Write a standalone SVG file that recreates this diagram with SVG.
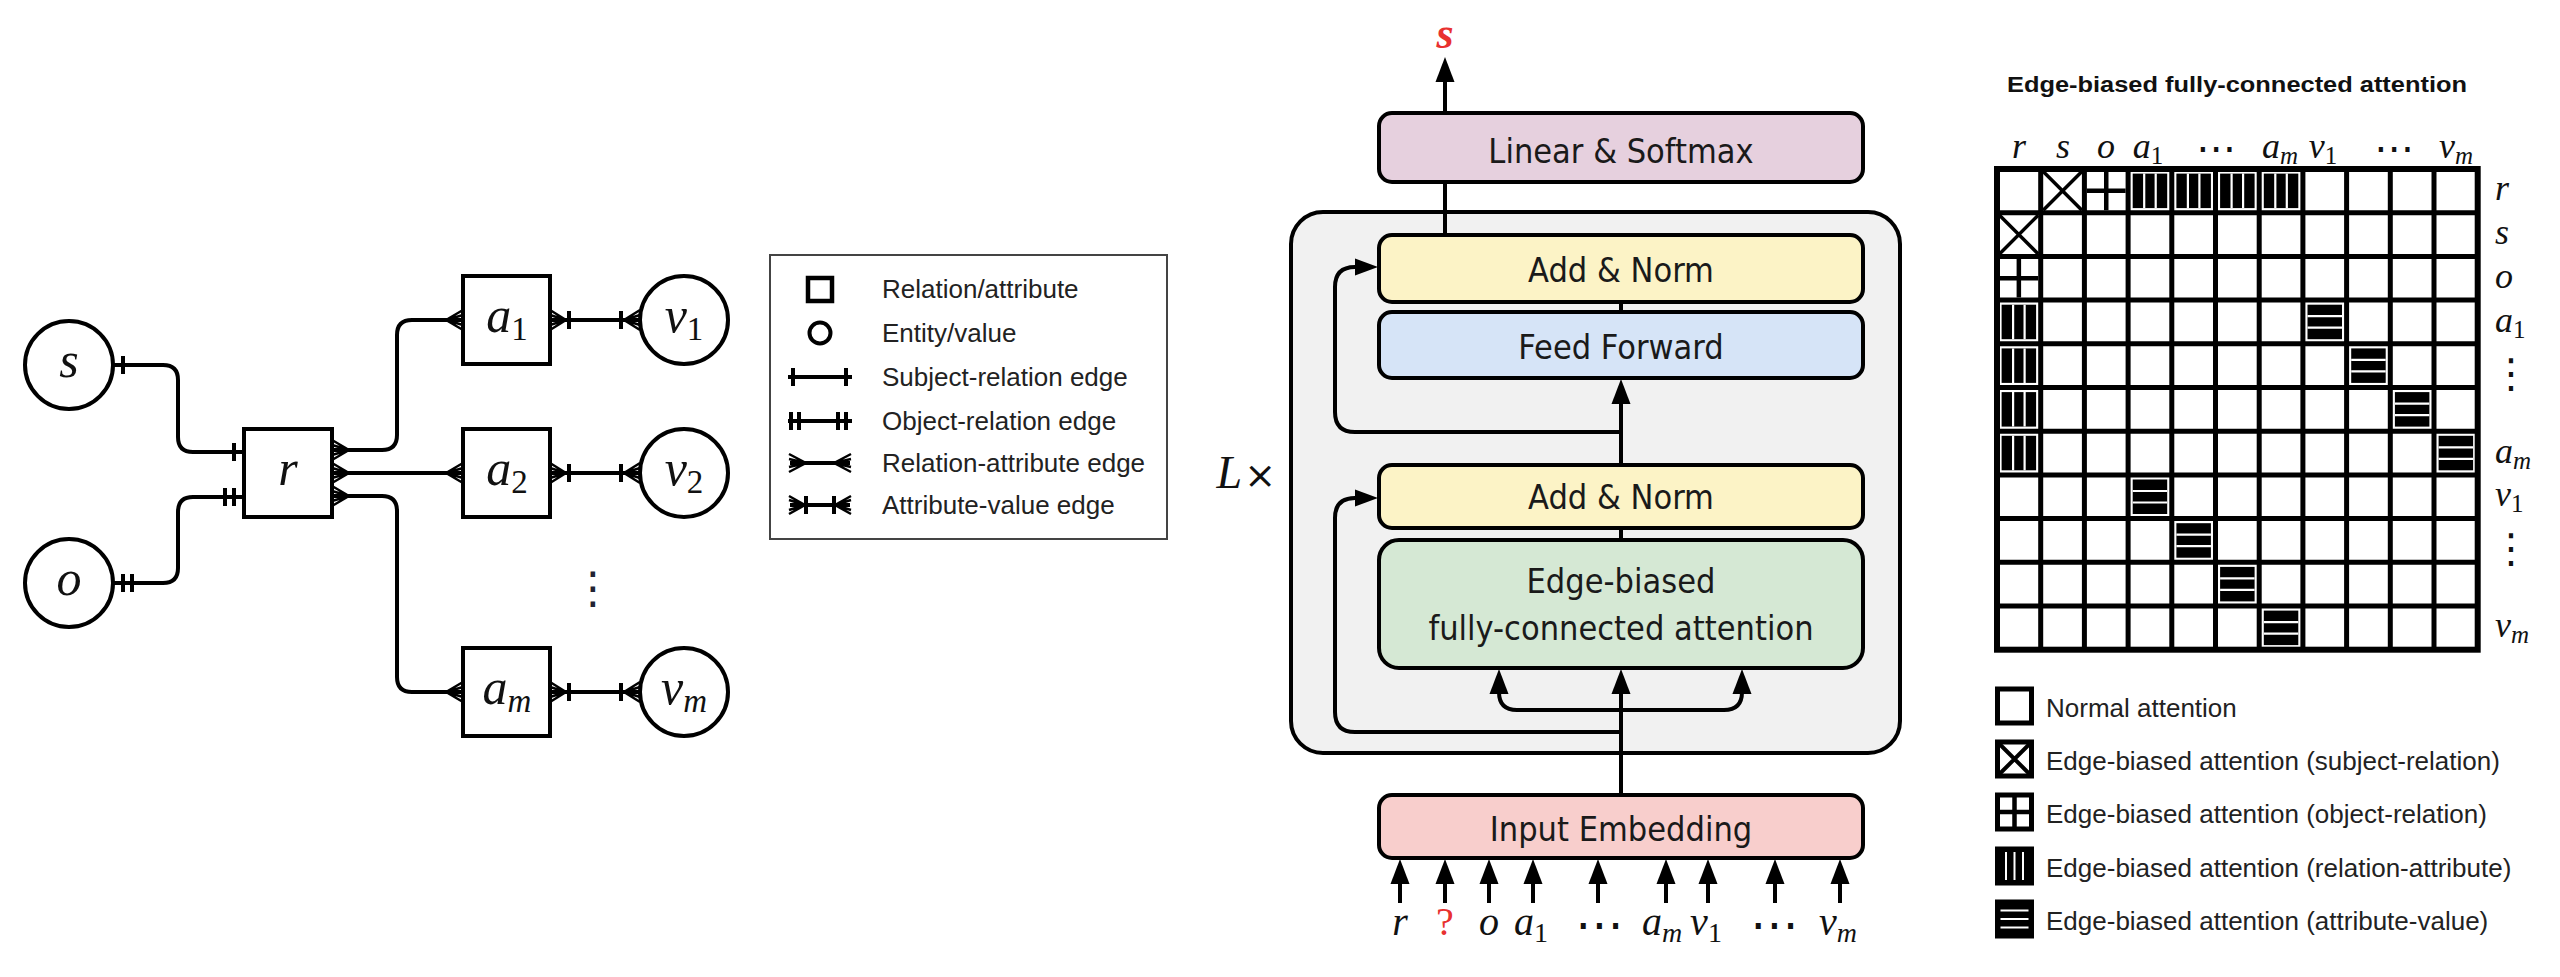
<svg xmlns="http://www.w3.org/2000/svg" xmlns:xlink="http://www.w3.org/1999/xlink" width="2560" height="977" viewBox="0 0 2560 977">
<style>
.m{font-family:"Liberation Serif","DejaVu Serif",serif;font-style:italic;fill:#111}
.up{font-style:normal}
.dots{font-family:"DejaVu Sans",sans-serif;font-style:normal}
.bx{font-family:"DejaVu Sans Condensed","DejaVu Sans",sans-serif;font-stretch:condensed;font-size:34px;fill:#1a1a1a;text-anchor:middle}
.lg{font-family:"Liberation Sans",Arial,sans-serif;font-size:26px;fill:#222}
.ln{fill:none;stroke:#000;stroke-width:4}
.nd{fill:#fff;stroke:#000;stroke-width:4}
.tb{stroke:#000;stroke-width:4}
.gl{fill:none;stroke:#000;stroke-width:5}
</style>
<defs>
<marker id="crow" markerUnits="userSpaceOnUse" orient="auto-start-reverse" markerWidth="26" markerHeight="26" viewBox="-22 -13 26 26" refX="0" refY="0" overflow="visible">
<path d="M-17,0 L0,-10 M-17,0 L0,10 M-17,0 L0,-5 M-17,0 L0,5" stroke="#000" stroke-width="2.5" fill="none"/>
</marker>
<marker id="tick" markerUnits="userSpaceOnUse" orient="auto-start-reverse" markerWidth="26" markerHeight="26" viewBox="-22 -13 26 26" refX="0" refY="0" overflow="visible">
<path d="M-10,-9 V9" stroke="#000" stroke-width="4" fill="none"/>
</marker>
<marker id="dtick" markerUnits="userSpaceOnUse" orient="auto-start-reverse" markerWidth="26" markerHeight="26" viewBox="-22 -13 26 26" refX="0" refY="0" overflow="visible">
<path d="M-10,-9 V9 M-19,-9 V9" stroke="#000" stroke-width="4" fill="none"/>
</marker>
<marker id="crowtick" markerUnits="userSpaceOnUse" orient="auto-start-reverse" markerWidth="26" markerHeight="26" viewBox="-22 -13 26 26" refX="0" refY="0" overflow="visible">
<path d="M-16,0 L0,-10 M-16,0 L0,10 M-16,0 L0,-5 M-16,0 L0,5" stroke="#000" stroke-width="2.5" fill="none"/>
<path d="M-19,-9 V9" stroke="#000" stroke-width="4" fill="none"/>
</marker>
<path id="ahU" d="M0,0 L-9.5,25 L9.5,25 Z" fill="#000"/>
<path id="ahR" d="M0,0 L-23,-8.5 L-23,8.5 Z" fill="#000"/>
<g id="cx"><path d="M2.5,2.5 L41.2,41.2 M41.2,2.5 L2.5,41.2" stroke="#000" stroke-width="3.5" fill="none"/></g>
<g id="cp"><path d="M21.85,2.5 V41.2 M2.5,21.85 H41.2" stroke="#000" stroke-width="4.5" fill="none"/></g>
<g id="cv"><rect x="4.6" y="4.6" width="34.5" height="34.5" fill="#000"/><path d="M16.1,4.6 V39.1 M27.6,4.6 V39.1" stroke="#fff" stroke-width="2.2"/></g>
<g id="ch"><rect x="4.6" y="4.6" width="34.5" height="34.5" fill="#000"/><path d="M4.6,16.1 H39.1 M4.6,27.6 H39.1" stroke="#fff" stroke-width="2.2"/></g>
</defs>
<rect width="2560" height="977" fill="#fff"/>

<!-- ============ LEFT GRAPH ============ -->
<g id="graph-connectors">
<path class="ln" d="M113,365 H163 Q178,365 178,380 V437 Q178,452 193,452 H244" marker-start="url(#tick)" marker-end="url(#tick)"/>
<path class="ln" d="M113,583 H163 Q178,583 178,568 V512 Q178,497 193,497 H244" marker-start="url(#dtick)" marker-end="url(#dtick)"/>
<path class="ln" d="M332,450 H382 Q397,450 397,435 V335 Q397,320 412,320 H463" marker-start="url(#crow)" marker-end="url(#crow)"/>
<path class="ln" d="M332,473 H463" marker-start="url(#crow)" marker-end="url(#crow)"/>
<path class="ln" d="M332,496 H382 Q397,496 397,511 V677 Q397,692 412,692 H463" marker-start="url(#crow)" marker-end="url(#crow)"/>
<path class="ln" d="M550,320 H640" marker-start="url(#crowtick)" marker-end="url(#crowtick)"/>
<path class="ln" d="M550,473 H640" marker-start="url(#crowtick)" marker-end="url(#crowtick)"/>
<path class="ln" d="M550,692 H640" marker-start="url(#crowtick)" marker-end="url(#crowtick)"/>
</g>
<g id="node-s"><circle class="nd" cx="69" cy="365" r="44"/><text class="m" x="69" y="377" font-size="50" text-anchor="middle">s</text></g>
<g id="node-o"><circle class="nd" cx="69" cy="583" r="44"/><text class="m" x="69" y="595" font-size="50" text-anchor="middle">o</text></g>
<g id="node-r"><rect class="nd" x="244" y="429" width="88" height="88"/><text class="m" x="288" y="485" font-size="50" text-anchor="middle">r</text></g>
<g id="node-a1"><rect class="nd" x="463" y="276" width="87" height="88"/><text class="m" x="507" y="332" font-size="50" text-anchor="middle">a<tspan class="up" font-size="33" dy="8">1</tspan></text></g>
<g id="node-a2"><rect class="nd" x="463" y="429" width="87" height="88"/><text class="m" x="507" y="485" font-size="50" text-anchor="middle">a<tspan class="up" font-size="33" dy="8">2</tspan></text></g>
<g id="node-am"><rect class="nd" x="463" y="648" width="87" height="88"/><text class="m" x="507" y="704" font-size="50" text-anchor="middle">a<tspan font-size="33" dy="8">m</tspan></text></g>
<g id="node-v1"><circle class="nd" cx="684" cy="320" r="44"/><text class="m" x="684" y="332" font-size="50" text-anchor="middle">v<tspan class="up" font-size="33" dy="8">1</tspan></text></g>
<g id="node-v2"><circle class="nd" cx="684" cy="473" r="44"/><text class="m" x="684" y="485" font-size="50" text-anchor="middle">v<tspan class="up" font-size="33" dy="8">2</tspan></text></g>
<g id="node-vm"><circle class="nd" cx="684" cy="692" r="44"/><text class="m" x="684" y="704" font-size="50" text-anchor="middle">v<tspan font-size="33" dy="8">m</tspan></text></g>
<text x="593" y="603" class="dots" font-size="44" fill="#223" text-anchor="middle">⋮</text>

<!-- legend of graph -->
<g id="legend-graph">
<rect x="770" y="255" width="397" height="284" fill="#fff" stroke="#444" stroke-width="2"/>
<rect x="808" y="278" width="24" height="23" fill="none" stroke="#000" stroke-width="4.5"/>
<circle cx="820" cy="333" r="10.5" fill="none" stroke="#000" stroke-width="4"/>
<path d="M788,377 H852 M793,368 V386 M846,368 V386" stroke="#000" stroke-width="4" fill="none"/>
<path d="M788,421 H852 M791,412 V430 M799,412 V430 M838,412 V430 M846,412 V430" stroke="#000" stroke-width="4" fill="none"/>
<path d="M790,463 H850" stroke="#000" stroke-width="4"/>
<path d="M806,463 L789,454 M806,463 L789,472 M806,463 L789,459 M806,463 L789,467 M834,463 L851,454 M834,463 L851,472 M834,463 L851,459 M834,463 L851,467" stroke="#000" stroke-width="2.5" fill="none"/>
<path d="M790,505 H850" stroke="#000" stroke-width="4"/>
<path d="M805,505 L789,496 M805,505 L789,514 M805,505 L789,500 M805,505 L789,510 M835,505 L851,496 M835,505 L851,514 M835,505 L851,500 M835,505 L851,510" stroke="#000" stroke-width="2.5" fill="none"/>
<path d="M806,496 V514 M834,496 V514" stroke="#000" stroke-width="4"/>
<text class="lg" x="882" y="298">Relation/attribute</text>
<text class="lg" x="882" y="342">Entity/value</text>
<text class="lg" x="882" y="386">Subject-relation edge</text>
<text class="lg" x="882" y="430">Object-relation edge</text>
<text class="lg" x="882" y="472">Relation-attribute edge</text>
<text class="lg" x="882" y="514">Attribute-value edge</text>
</g>

<!-- ============ TRANSFORMER ============ -->
<g id="layer-box"><rect x="1291" y="212" width="609" height="541" rx="32" fill="#f1f1f1" stroke="#000" stroke-width="4"/></g>
<text x="1276" y="488" class="m" font-size="46" text-anchor="end">L<tspan class="up" font-family="DejaVu Sans,sans-serif" font-size="38" dx="2">×</tspan></text>

<g id="transformer-connectors">
<line class="tb" x1="1445" y1="113" x2="1445" y2="70"/>
<use href="#ahU" x="1445" y="57"/>
<line class="tb" x1="1445" y1="182" x2="1445" y2="235"/>
<line class="tb" x1="1621" y1="302" x2="1621" y2="312"/>
<line class="tb" x1="1621" y1="465" x2="1621" y2="392"/>
<use href="#ahU" x="1621" y="379"/>
<path class="ln" d="M1621,432 H1355 Q1335,432 1335,412 V287 Q1335,267 1355,267 H1362"/>
<use href="#ahR" x="1378" y="267"/>
<line class="tb" x1="1621" y1="528" x2="1621" y2="540"/>
<line class="tb" x1="1621" y1="795" x2="1621" y2="682"/>
<use href="#ahU" x="1621" y="669"/>
<path class="ln" d="M1499,682 V692 Q1499,710 1517,710 H1724 Q1742,710 1742,692 V682"/>
<use href="#ahU" x="1499" y="669"/>
<use href="#ahU" x="1742" y="669"/>
<path class="ln" d="M1621,732 H1355 Q1335,732 1335,712 V518 Q1335,498 1355,498 H1362"/>
<use href="#ahR" x="1378" y="498"/>
<g class="tb">
<line x1="1400" y1="903" x2="1400" y2="872"/><line x1="1445" y1="903" x2="1445" y2="872"/>
<line x1="1489" y1="903" x2="1489" y2="872"/><line x1="1533" y1="903" x2="1533" y2="872"/>
<line x1="1598" y1="903" x2="1598" y2="872"/><line x1="1666" y1="903" x2="1666" y2="872"/>
<line x1="1708" y1="903" x2="1708" y2="872"/><line x1="1775" y1="903" x2="1775" y2="872"/>
<line x1="1840" y1="903" x2="1840" y2="872"/>
</g>
<use href="#ahU" x="1400" y="859"/><use href="#ahU" x="1445" y="859"/><use href="#ahU" x="1489" y="859"/>
<use href="#ahU" x="1533" y="859"/><use href="#ahU" x="1598" y="859"/><use href="#ahU" x="1666" y="859"/>
<use href="#ahU" x="1708" y="859"/><use href="#ahU" x="1775" y="859"/><use href="#ahU" x="1840" y="859"/>
</g>

<text x="1445" y="48" font-family="Liberation Serif,DejaVu Serif,serif" font-style="italic" font-weight="bold" font-size="44" fill="#e8312f" text-anchor="middle">s</text>
<g id="linear-softmax"><rect x="1379" y="113" width="484" height="69" rx="13" fill="#e6d0de" stroke="#000" stroke-width="4"/><text class="bx" x="1621" y="163">Linear &amp; Softmax</text></g>
<g id="add-norm-1"><rect x="1379" y="235" width="484" height="67" rx="13" fill="#fcf3c6" stroke="#000" stroke-width="4"/><text class="bx" x="1621" y="282">Add &amp; Norm</text></g>
<g id="feed-forward"><rect x="1379" y="312" width="484" height="66" rx="13" fill="#d6e4f7" stroke="#000" stroke-width="4"/><text class="bx" x="1621" y="359">Feed Forward</text></g>
<g id="add-norm-2"><rect x="1379" y="465" width="484" height="63" rx="13" fill="#fcf3c6" stroke="#000" stroke-width="4"/><text class="bx" x="1621" y="509">Add &amp; Norm</text></g>
<g id="edge-attention"><rect x="1379" y="540" width="484" height="128" rx="20" fill="#d5e8d4" stroke="#000" stroke-width="4"/><text class="bx" x="1621" y="593">Edge-biased</text><text class="bx" x="1621" y="640">fully-connected attention</text></g>
<g id="input-embedding"><rect x="1379" y="795" width="484" height="63" rx="13" fill="#f8cecc" stroke="#000" stroke-width="4"/><text class="bx" x="1621" y="841">Input Embedding</text></g>

<g id="tokens" class="m" font-size="40" text-anchor="middle">
<text x="1400" y="935">r</text>
<text x="1445" y="935" class="up" fill="#e8312f" font-family="Liberation Serif,serif" font-style="normal">?</text>
<text x="1489" y="935">o</text>
<text x="1531" y="935">a<tspan class="up" font-size="28" dy="7">1</tspan></text>
<text x="1599" y="941" class="dots" font-size="48">⋯</text>
<text x="1662" y="935">a<tspan font-size="28" dy="7">m</tspan></text>
<text x="1706" y="935">v<tspan class="up" font-size="28" dy="7">1</tspan></text>
<text x="1774" y="941" class="dots" font-size="48">⋯</text>
<text x="1838" y="935">v<tspan font-size="28" dy="7">m</tspan></text>
</g>

<!-- ============ MATRIX ============ -->
<text x="2237" y="92" font-family="Liberation Sans,Arial,sans-serif" font-weight="bold" font-size="22" fill="#111" text-anchor="middle" textLength="460" lengthAdjust="spacingAndGlyphs">Edge-biased fully-connected attention</text>
<g id="matrix">
<rect x="1997" y="169" width="480.7" height="480.7" fill="#fff" stroke="#000" stroke-width="6"/>
<path class="gl" d="M2040.7,169 V649.7 M2084.4,169 V649.7 M2128.1,169 V649.7 M2171.8,169 V649.7 M2215.5,169 V649.7 M2259.2,169 V649.7 M2302.9,169 V649.7 M2346.6,169 V649.7 M2390.3,169 V649.7 M2434,169 V649.7 M1997,212.7 H2477.7 M1997,256.4 H2477.7 M1997,300.1 H2477.7 M1997,343.8 H2477.7 M1997,387.5 H2477.7 M1997,431.2 H2477.7 M1997,474.9 H2477.7 M1997,518.6 H2477.7 M1997,562.3 H2477.7 M1997,606 H2477.7"/>
<use href="#cx" x="2040.7" y="169"/>
<use href="#cx" x="1997" y="212.7"/>
<use href="#cp" x="2084.4" y="169"/>
<use href="#cp" x="1997" y="256.4"/>
<use href="#cv" x="2128.1" y="169"/><use href="#cv" x="2171.8" y="169"/><use href="#cv" x="2215.5" y="169"/><use href="#cv" x="2259.2" y="169"/>
<use href="#cv" x="1997" y="300.1"/><use href="#cv" x="1997" y="343.8"/><use href="#cv" x="1997" y="387.5"/><use href="#cv" x="1997" y="431.2"/>
<use href="#ch" x="2302.9" y="300.1"/><use href="#ch" x="2346.6" y="343.8"/><use href="#ch" x="2390.3" y="387.5"/><use href="#ch" x="2434" y="431.2"/>
<use href="#ch" x="2128.1" y="474.9"/><use href="#ch" x="2171.8" y="518.6"/><use href="#ch" x="2215.5" y="562.3"/><use href="#ch" x="2259.2" y="606"/>
</g>
<g id="matrix-col-labels" class="m" font-size="36" text-anchor="middle">
<text x="2019" y="158">r</text><text x="2063" y="158">s</text><text x="2106" y="158">o</text>
<text x="2148" y="158">a<tspan class="up" font-size="25" dy="6">1</tspan></text>
<text x="2216" y="162" class="dots" font-size="40">⋯</text>
<text x="2280" y="158">a<tspan font-size="25" dy="6">m</tspan></text>
<text x="2323" y="158">v<tspan class="up" font-size="25" dy="6">1</tspan></text>
<text x="2394" y="162" class="dots" font-size="40">⋯</text>
<text x="2456" y="158">v<tspan font-size="25" dy="6">m</tspan></text>
</g>
<g id="matrix-row-labels" class="m" font-size="36">
<text x="2495" y="200">r</text><text x="2495" y="244">s</text><text x="2495" y="288">o</text>
<text x="2495" y="332">a<tspan class="up" font-size="25" dy="6">1</tspan></text>
<text x="2491" y="387" class="dots" font-size="40">⋮</text>
<text x="2495" y="463">a<tspan font-size="25" dy="6">m</tspan></text>
<text x="2495" y="506">v<tspan class="up" font-size="25" dy="6">1</tspan></text>
<text x="2491" y="562" class="dots" font-size="40">⋮</text>
<text x="2495" y="637">v<tspan font-size="25" dy="6">m</tspan></text>
</g>

<g id="legend-matrix">
<rect x="1997.5" y="689" width="34" height="34" fill="#fff" stroke="#000" stroke-width="5"/>
<rect x="1997.5" y="742" width="34" height="34" fill="#fff" stroke="#000" stroke-width="5"/>
<path d="M1997.5,742 L2031.5,776 M2031.5,742 L1997.5,776" stroke="#000" stroke-width="4"/>
<rect x="1997.5" y="795" width="34" height="34" fill="#fff" stroke="#000" stroke-width="5"/>
<path d="M2014.5,795 V829 M1997.5,812 H2031.5" stroke="#000" stroke-width="4.5"/>
<rect x="1997.5" y="849" width="34" height="34" fill="#000" stroke="#000" stroke-width="5"/>
<path d="M2006,852 V880 M2014.5,852 V880 M2023,852 V880" stroke="#fff" stroke-width="2"/>
<rect x="1997.5" y="902" width="34" height="34" fill="#000" stroke="#000" stroke-width="5"/>
<path d="M2000.5,910.5 H2028.5 M2000.5,919 H2028.5 M2000.5,927.5 H2028.5" stroke="#fff" stroke-width="2"/>
<text class="lg" x="2046" y="717">Normal attention</text>
<text class="lg" x="2046" y="770">Edge-biased attention (subject-relation)</text>
<text class="lg" x="2046" y="823">Edge-biased attention (object-relation)</text>
<text class="lg" x="2046" y="877">Edge-biased attention (relation-attribute)</text>
<text class="lg" x="2046" y="930">Edge-biased attention (attribute-value)</text>
</g>
</svg>
